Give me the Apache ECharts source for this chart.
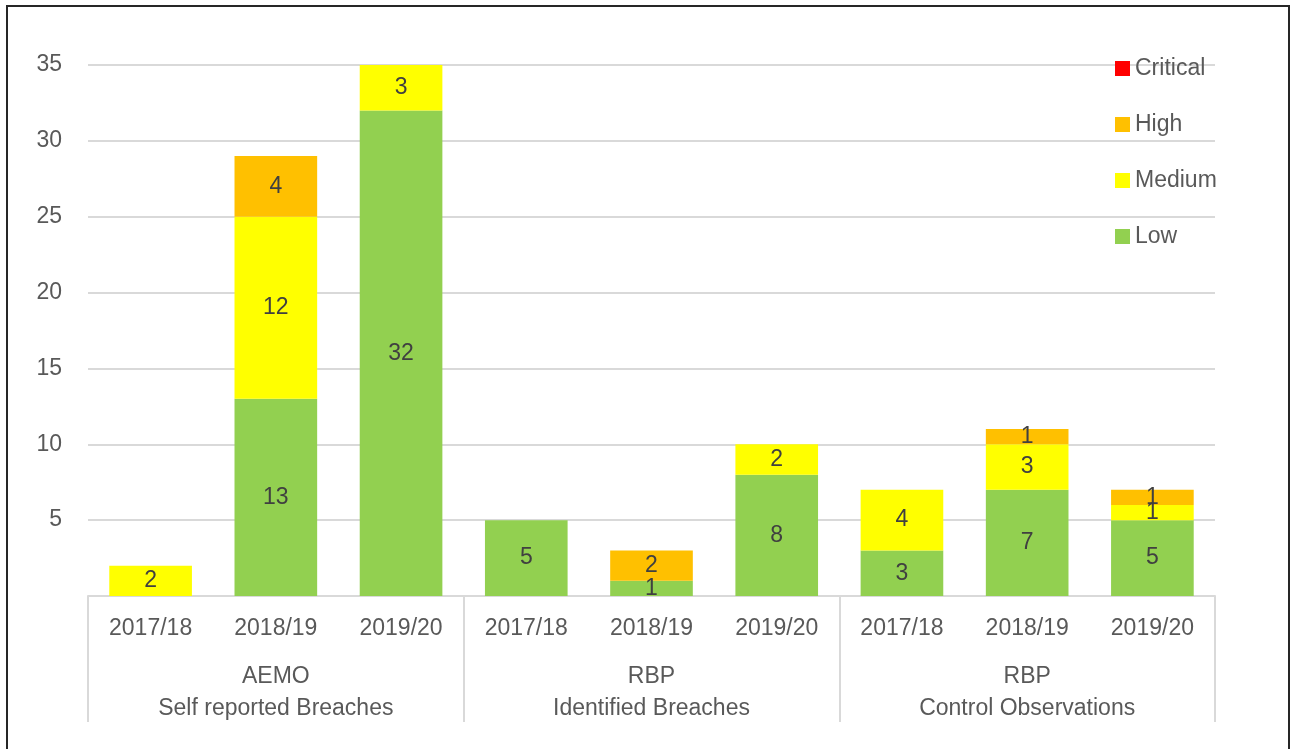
<!DOCTYPE html>
<html>
<head>
<meta charset="utf-8">
<script src="https://cdn.jsdelivr.net/npm/echarts@6/dist/echarts.min.js"></script>
<style>
html,body{margin:0;padding:0;background:#fff;}
#chart{width:1294px;height:749px;}
#frame{position:absolute;left:6px;top:5px;width:1284px;height:800px;border:2px solid #262626;pointer-events:none;box-sizing:border-box;}
</style>
</head>
<body>
<div id="chart"></div>
<div id="frame"></div>
<script>
const years = ['2017/18','2018/19','2019/20','2017/18','2018/19','2019/20','2017/18','2018/19','2019/20'];
const groups = ['AEMO\nSelf reported Breaches','RBP\nIdentified Breaches','RBP\nControl Observations'];
const low      = [0, 13, 32, 5, 1, 8, 3, 7, 5];
const medium   = [2, 12, 3, 0, 0, 2, 4, 3, 1];
const high     = [0, 4, 0, 0, 2, 0, 0, 1, 1];
const critical = [0, 0, 0, 0, 0, 0, 0, 0, 0];

const FONT = 'Liberation Sans';
const FS = 23;
const labelCfg = {
  show: true, position: 'inside', color: '#404040', fontFamily: FONT, fontSize: FS,
  formatter: p => p.value === 0 ? '' : String(p.value)
};
function mk(name, data, color) {
  return { name, type: 'bar', stack: 'total', data, barWidth: '66%',
    itemStyle: { color }, label: labelCfg, emphasis: { disabled: true } };
}
const chart = echarts.init(document.getElementById('chart'));
chart.setOption({
  animation: false,
  grid: { left: 88, right: 79, top: 65, bottom: 153 },
  legend: {
    data: ['Critical', 'High', 'Medium', 'Low'],
    orient: 'vertical', left: 1110, top: 52,
    itemWidth: 15, itemHeight: 15, itemGap: 33,
    icon: 'rect',
    textStyle: { color: '#595959', fontFamily: FONT, fontSize: FS }
  },
  xAxis: [
    { type: 'category', data: years, position: 'bottom',
      axisLine: { lineStyle: { color: '#d9d9d9', width: 2 } },
      axisTick: { show: false },
      axisLabel: { color: '#595959', fontFamily: FONT, fontSize: FS, margin: 21, interval: 0 } },
    { type: 'category', data: groups, position: 'bottom',
      axisLine: { show: false },
      axisTick: { show: true, length: 126, lineStyle: { color: '#d9d9d9', width: 2 } },
      axisLabel: { color: '#595959', fontFamily: FONT, fontSize: FS, lineHeight: 32, margin: 65, interval: 0 } }
  ],
  yAxis: {
    type: 'value', min: 0, max: 35, interval: 5,
    axisLine: { show: false }, axisTick: { show: false },
    splitLine: { lineStyle: { color: '#d9d9d9', width: 2 } },
    axisLabel: { color: '#595959', fontFamily: FONT, fontSize: FS, margin: 26,
      formatter: v => v === 0 ? '' : String(v) }
  },
  series: [
    mk('Low', low, '#92d050'),
    mk('Medium', medium, '#ffff00'),
    mk('High', high, '#ffc000'),
    mk('Critical', critical, '#ff0000')
  ]
});
</script>
</body>
</html>
